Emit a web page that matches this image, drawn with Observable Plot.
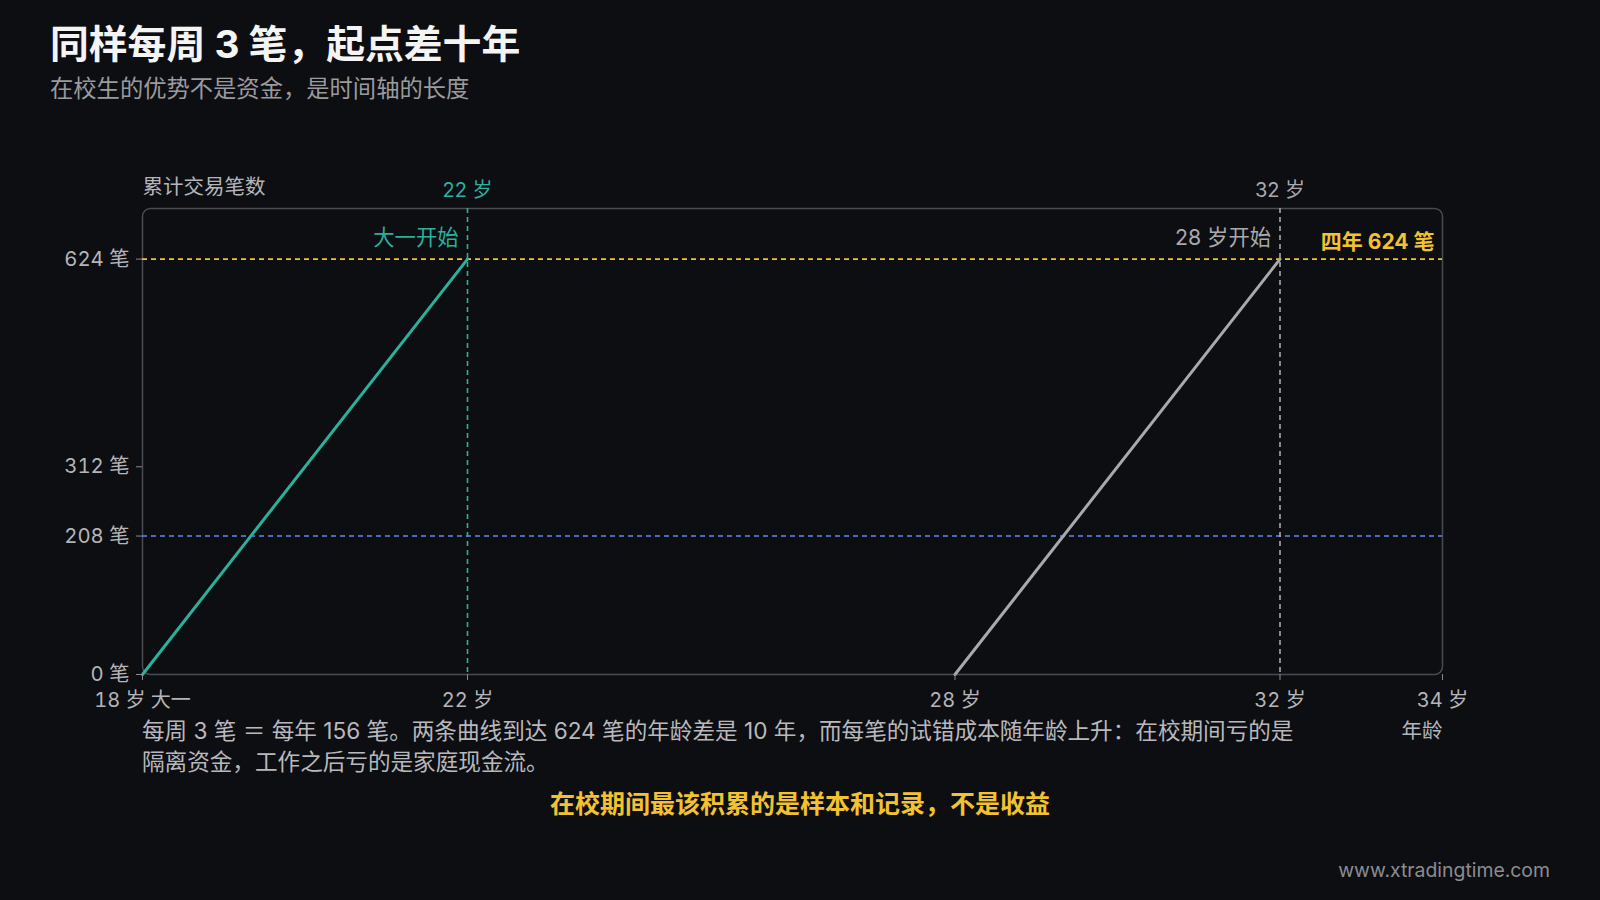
<!DOCTYPE html>
<html><head><meta charset="utf-8">
<script src="https://cdn.jsdelivr.net/npm/d3@7"></script>
<script src="https://cdn.jsdelivr.net/npm/@observablehq/plot@0.6"></script>
<style>
html,body{margin:0;padding:0;background:#0d0e12;width:1600px;height:900px;overflow:hidden;font-family:Inter,"Noto Sans CJK SC","Noto Sans",sans-serif;}
.abs{position:absolute;white-space:nowrap;}
#title{left:50px;top:19px;font-size:38.8px;font-weight:700;color:#f4f4f4;line-height:50px;}
#subtitle{left:50px;top:73px;font-size:23.3px;color:#9b9b9f;line-height:32px;}
#chart{position:absolute;left:0;top:150px;}
#caption{left:142px;top:715px;font-size:22.6px;color:#b9b9bd;line-height:31px;}
#key{left:0;width:1600px;text-align:center;top:786px;font-size:25px;font-weight:700;color:#f2c230;line-height:36px;}
#footer{right:50px;top:857px;font-size:19.4px;color:#8c8c90;line-height:26px;}
</style></head>
<body>
<div id="title" class="abs">同样每周 3 笔，起点差十年</div>
<div id="subtitle" class="abs">在校生的优势不是资金，是时间轴的长度</div>
<div id="chart"></div>
<div id="caption" class="abs">每周 3 笔 ＝ 每年 156 笔。两条曲线到达 624 笔的年龄差是 10 年，而每笔的试错成本随年龄上升：在校期间亏的是<br>隔离资金，工作之后亏的是家庭现金流。</div>
<div id="key" class="abs">在校期间最该积累的是样本和记录，不是收益</div>
<div id="footer" class="abs">www.xtradingtime.com</div>
<script>
// data
const seriesNames = ["在校", "工作后"];
const startAge = [18, 28];
const endAge = [22, 32];
const countStart = [0, 0];
const countEnd = [624, 624];
const seriesColors = ["#2bb09c", "#a9a9ad"];
const xTicks = [18, 22, 28, 32, 34];
const xTickLabels = ["18 岁 大一", "22 岁", "28 岁", "32 岁", "34 岁"];
const yTicks = [0, 208, 312, 624];
const refYs = [624, 208];
const refYColors = ["#f2c230", "#5b8af0"];
const refXs = [22, 32];
const refXLabels = ["22 岁", "32 岁"];
const startLabels = ["大一开始", "28 岁开始"];
const xDomain = [18, 34];
const yDomain = [0, 700];

const lineData = seriesNames.flatMap((s, i) => [
  {s, age: startAge[i], n: countStart[i]},
  {s, age: endAge[i], n: countEnd[i]}
]);
const refYData = refYs.map((v, i) => ({v, c: refYColors[i]}));
const refXData = refXs.map((v, i) => ({v, c: seriesColors[i], label: refXLabels[i], start: startLabels[i], top: countEnd[i]}));
const tickLabel = new Map(xTicks.map((t, i) => [t, xTickLabels[i]]));

const font = 'Inter,"Noto Sans CJK SC","Noto Sans",sans-serif';
const chart = Plot.plot({
  width: 1600,
  height: 600,
  marginLeft: 142,
  marginRight: 158,
  marginTop: 58,
  marginBottom: 76,
  style: {background: "transparent", color: "#b5b5b9", fontFamily: font},
  x: {domain: xDomain},
  y: {domain: yDomain},
  marks: [
    Plot.frame({stroke: "#4a4b52", strokeWidth: 1.5, rx: 8}),
    Plot.ruleY(refYData, {y: "v", stroke: "c", strokeWidth: 1.6, strokeDasharray: "5,4"}),
    Plot.ruleX(refXData, {x: "v", stroke: "c", strokeWidth: 1.6, strokeDasharray: "5,4"}),
    Plot.line(lineData, {x: "age", y: "n", z: "s", stroke: d => seriesColors[seriesNames.indexOf(d.s)], strokeWidth: 3}),
    Plot.axisX(xTicks, {tickSize: 6, tickPadding: 12, stroke: "#8a8a8e", fill: "#b5b5b9", fontSize: 20, tickFormat: d => tickLabel.get(d), label: null}),
    Plot.axisY(yTicks, {tickSize: 6, tickPadding: 7, stroke: "#8a8a8e", fill: "#b5b5b9", fontSize: 20.3, tickFormat: d => `${d} 笔`, label: null}),
    Plot.text(["累计交易笔数"], {x: xDomain[0], y: yDomain[1], text: d => d, textAnchor: "start", dy: -21, fontSize: 20.5, fill: "#b5b5b9"}),
    Plot.text(["年龄"], {x: xDomain[1], y: yDomain[0], text: d => d, textAnchor: "end", dy: 57, fontSize: 20.5, fill: "#b5b5b9"}),
    Plot.text(refXData, {x: "v", y: yDomain[1], text: "label", fill: "c", dy: -18, fontSize: 20, fontWeight: d => d.v === refXs[0] ? 700 : 500}),
    Plot.text(refXData, {x: "v", y: "top", text: "start", fill: "c", textAnchor: "end", dx: -9, dy: -21, fontSize: 21.3, fontWeight: d => d.v === refXs[0] ? 700 : 500}),
    Plot.text([`四年 ${countEnd[0]} 笔`], {x: xDomain[1], y: refYs[0], text: d => d, fill: refYColors[0], textAnchor: "end", dx: -8, dy: -17, fontSize: 21, fontWeight: 700})
  ]
});
document.getElementById("chart").appendChild(chart);
</script>
</body></html>
